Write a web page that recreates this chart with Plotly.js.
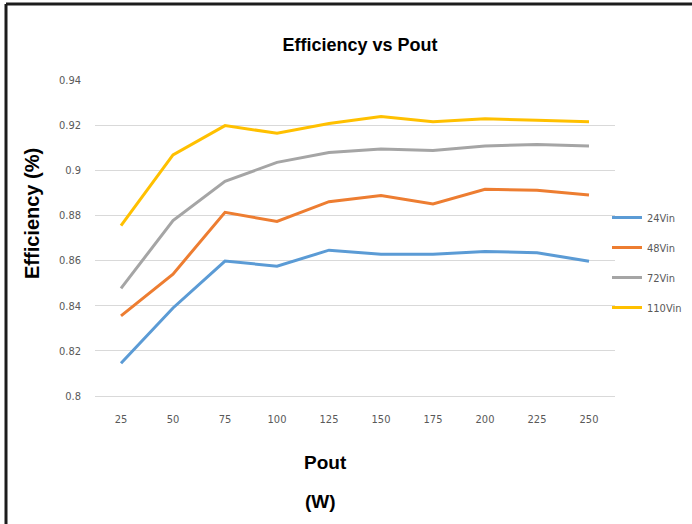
<!DOCTYPE html>
<html>
<head>
<meta charset="utf-8">
<script src="https://cdn.plot.ly/plotly-3.0.1.min.js"></script>
<style>
  html, body { margin: 0; padding: 0; background: #fff; }
  #chart { width: 692px; height: 524px; }
</style>
</head>
<body>
<div id="chart"></div>
<script>
const pout = ['25', '50', '75', '100', '125', '150', '175', '200', '225', '250'];
const vin24 = [0.8145, 0.839, 0.8598, 0.8575, 0.8646, 0.8628, 0.8628, 0.864, 0.8635, 0.8597];
const vin48 = [0.8355, 0.854, 0.8814, 0.8773, 0.8861, 0.8888, 0.8851, 0.8916, 0.8912, 0.889];
const vin72 = [0.8477, 0.8777, 0.8951, 0.9035, 0.9079, 0.9094, 0.9088, 0.9108, 0.9114, 0.9108];
const vin110 = [0.8755, 0.9068, 0.9198, 0.9164, 0.9207, 0.9238, 0.9215, 0.9228, 0.9222, 0.9215];
const seriesNames = ['24Vin', '48Vin', '72Vin', '110Vin'];
const yTicks = [0.8, 0.82, 0.84, 0.86, 0.88, 0.9, 0.92, 0.94];
const yTickText = ['0.8', '0.82', '0.84', '0.86', '0.88', '0.9', '0.92', '0.94'];

const colors = ['#5B9BD5', '#ED7D31', '#A5A5A5', '#FFC000'];
const narrow = '"Liberation Sans Narrow", "Arial Narrow", "DejaVu Sans Condensed", "Liberation Sans", Arial, sans-serif';
const sans = '"Liberation Sans", Arial, Helvetica, sans-serif';

const data = [vin24, vin48, vin72, vin110].map((ys, i) => ({
  type: 'scatter',
  mode: 'lines',
  x: pout,
  y: ys,
  name: seriesNames[i],
  legendgroup: 'g' + i,
  line: { color: colors[i], width: 3 }
}));

// plot area: left 95, right 615, top 80, bottom 396
const L = 95, R = 615, T = 80, B = 396;
const px = v => (v - L) / (R - L);
const py = v => (B - v) / (B - T);

const layout = {
  width: 692,
  height: 524,
  margin: { l: L, r: 692 - R, t: T, b: 524 - B, pad: 0, autoexpand: false },
  paper_bgcolor: '#ffffff',
  plot_bgcolor: '#ffffff',
  showlegend: true,
  legend: {
    x: px(607), xanchor: 'left',
    y: py(203), yanchor: 'top',
    font: { family: narrow, size: 11, color: '#595959' },
    tracegroupgap: 11,
    itemwidth: 30,
    bgcolor: 'rgba(0,0,0,0)'
  },
  title: {
    text: '<b>Efficiency vs Pout</b>',
    font: { family: sans, size: 18, color: '#000000' },
    x: px(360), xref: 'paper', xanchor: 'center',
    y: 1 - 45 / 524, yanchor: 'middle'
  },
  xaxis: {
    type: 'category',
    range: [-0.5, 9.5],
    showgrid: false,
    zeroline: false,
    showline: true,
    linecolor: '#d9d9d9',
    linewidth: 1,
    ticks: '',
    ticklabelstandoff: 13,
    tickfont: { family: narrow, size: 11, color: '#595959' }
  },
  yaxis: {
    range: [0.8, 0.94],
    tickvals: yTicks,
    ticktext: yTickText,
    showgrid: true,
    gridcolor: '#d9d9d9',
    gridwidth: 1,
    zeroline: false,
    showline: false,
    ticks: '',
    ticklabelstandoff: 13,
    tickfont: { family: narrow, size: 11, color: '#595959' }
  },
  annotations: [
    {
      text: '<b>Efficiency (%)</b>',
      xref: 'paper', yref: 'paper',
      x: px(32), y: py(214),
      xanchor: 'center', yanchor: 'middle',
      textangle: -90,
      showarrow: false,
      font: { family: sans, size: 20, color: '#000000' }
    },
    {
      text: '<b>Pout</b>',
      xref: 'paper', yref: 'paper',
      x: px(325), y: py(462),
      xanchor: 'center', yanchor: 'middle',
      showarrow: false,
      font: { family: sans, size: 19, color: '#000000' }
    },
    {
      text: '<b>(W)</b>',
      xref: 'paper', yref: 'paper',
      x: px(320), y: py(501),
      xanchor: 'center', yanchor: 'middle',
      showarrow: false,
      font: { family: sans, size: 19, color: '#000000' }
    }
  ],
  shapes: [
    {
      type: 'line', xref: 'paper', yref: 'paper',
      x0: px(6), x1: px(700), y0: py(4), y1: py(4),
      line: { color: '#1c1c1c', width: 3 }
    },
    {
      type: 'line', xref: 'paper', yref: 'paper',
      x0: px(6), x1: px(6), y0: py(4), y1: py(530),
      line: { color: '#1c1c1c', width: 3 }
    }
  ]
};

Plotly.newPlot('chart', data, layout, { displayModeBar: false, staticPlot: true });
</script>
</body>
</html>
